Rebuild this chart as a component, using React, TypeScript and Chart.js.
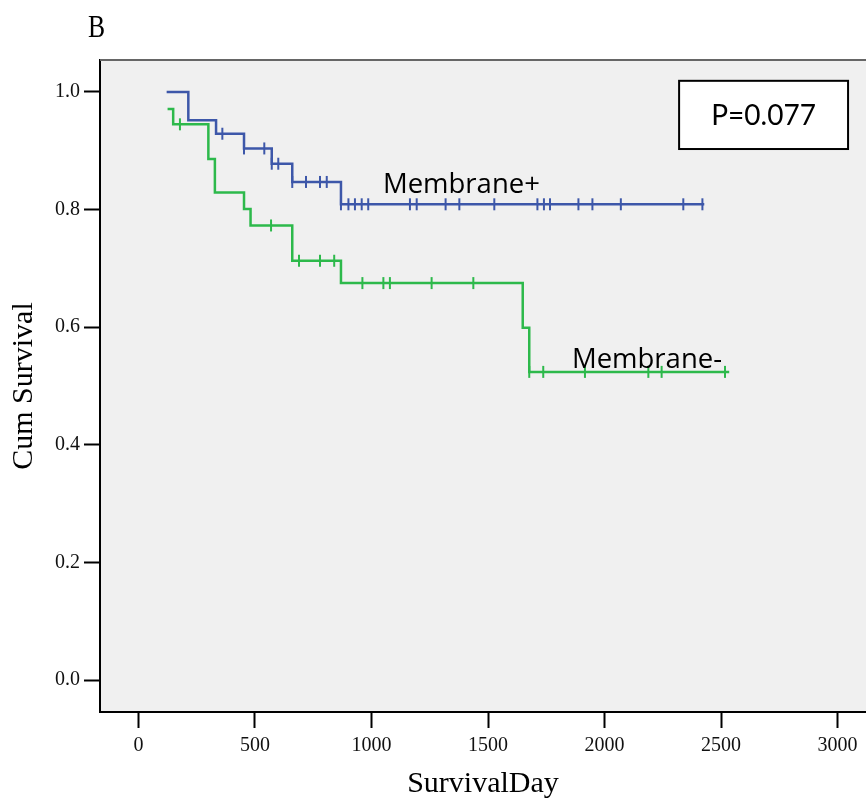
import React, { useEffect, useRef } from "react";
import { Chart, registerables } from "chart.js";

Chart.register(...registerables);

// ---- Data ----
const xTickValues = [0, 500, 1000, 1500, 2000, 2500, 3000];
const yTickValues = [0.0, 0.2, 0.4, 0.6, 0.8, 1.0];

// Membrane+ (blue)
const blueEventDays = [121, 214, 333, 453, 572, 660, 869];
const blueSurvival = [1.0, 0.952, 0.929, 0.904, 0.878, 0.847, 0.809];
const blueEndDay = 2428;
const blueCensorDays = [
  360, 453, 540, 572, 600, 660, 719, 779, 808, 869, 901, 929, 958, 986, 1165,
  1194, 1318, 1377, 1527, 1712, 1740, 1766, 1888, 1948, 2070, 2338, 2420,
];

// Membrane- (green)
const greenEventDays = [125, 149, 300, 328, 453, 481, 660, 869, 1649, 1677];
const greenSurvival = [0.971, 0.945, 0.886, 0.829, 0.801, 0.773, 0.713, 0.675, 0.599, 0.524];
const greenEndDay = 2535;
const greenCensorDays = [
  178, 569, 689, 779, 840, 961, 1051, 1079, 1258, 1437, 1677, 1737, 1916, 2188, 2245, 2517,
];

// Annotation texts and their anchors (in data units)
const seriesLabels = ["Membrane+", "Membrane-"];
const seriesLabelDays = [1049, 1860];
const seriesLabelValues = [0.828, 0.531];
const pValueText = "P=0.077";
const pBoxDays = [2320, 3045];
const pBoxValues = [1.019, 0.903];
const panelLetter = "B";

const BLUE = "#3d57a9";
const GREEN = "#2db94b";

function stepPoints(days: number[], surv: number[], end: number) {
  const pts = days.map((d, i) => ({ x: d, y: surv[i] }));
  pts.push({ x: end, y: surv[surv.length - 1] });
  return pts;
}

function censorPoints(censor: number[], days: number[], surv: number[]) {
  return censor.map((c) => {
    let s = surv[0];
    for (let i = 0; i < days.length; i++) if (days[i] <= c) s = surv[i];
    return { x: c, y: s };
  });
}

const decorPlugin = {
  id: "decor",
  beforeDraw(chart: any) {
    const { ctx, chartArea } = chart;
    ctx.save();
    ctx.fillStyle = "#f0f0f0";
    ctx.fillRect(chartArea.left, chartArea.top, chartArea.right - chartArea.left, chartArea.bottom - chartArea.top);
    ctx.restore();
  },
  afterDraw(chart: any) {
    const { ctx, chartArea, scales } = chart;
    const xs = scales.x;
    const ys = scales.y;
    ctx.save();
    // top frame line
    ctx.strokeStyle = "#666666";
    ctx.lineWidth = 2;
    ctx.beginPath();
    ctx.moveTo(chartArea.left, chartArea.top);
    ctx.lineTo(chartArea.right, chartArea.top);
    ctx.stroke();

    // series labels
    ctx.fillStyle = "#000";
    ctx.font = "27.5px 'Open Sans'";
    ctx.textAlign = "left";
    ctx.textBaseline = "alphabetic";
    seriesLabels.forEach((t, i) => {
      ctx.fillText(t, xs.getPixelForValue(seriesLabelDays[i]), ys.getPixelForValue(seriesLabelValues[i]));
    });

    // P value box
    const bx0 = xs.getPixelForValue(pBoxDays[0]);
    const bx1 = xs.getPixelForValue(pBoxDays[1]);
    const by0 = ys.getPixelForValue(pBoxValues[0]);
    const by1 = ys.getPixelForValue(pBoxValues[1]);
    ctx.fillStyle = "#ffffff";
    ctx.fillRect(bx0, by0, bx1 - bx0, by1 - by0);
    ctx.strokeStyle = "#000";
    ctx.lineWidth = 2;
    ctx.strokeRect(bx0, by0, bx1 - bx0, by1 - by0);
    ctx.fillStyle = "#000";
    ctx.font = "28px Lato";
    ctx.textAlign = "center";
    ctx.textBaseline = "middle";
    ctx.fillText(pValueText, (bx0 + bx1) / 2, (by0 + by1) / 2 + 1);

    // panel letter
    ctx.translate(88, 37);
    ctx.scale(0.8, 1);
    ctx.font = "32px 'Liberation Serif'";
    ctx.textAlign = "left";
    ctx.textBaseline = "alphabetic";
    ctx.fillText(panelLetter, 0, 0);
    ctx.restore();
  },
};

export default function App() {
  const canvasRef = useRef<HTMLCanvasElement | null>(null);

  useEffect(() => {
    if (!canvasRef.current) return;
    const chart = new Chart(canvasRef.current, {
      type: "line",
      data: {
        datasets: [
          {
            label: "Membrane+",
            data: stepPoints(blueEventDays, blueSurvival, blueEndDay),
            borderColor: BLUE,
            borderWidth: 2.5,
            stepped: "before",
            pointRadius: 0,
            fill: false,
          },
          {
            label: "Membrane-",
            data: stepPoints(greenEventDays, greenSurvival, greenEndDay),
            borderColor: GREEN,
            borderWidth: 2.5,
            stepped: "before",
            pointRadius: 0,
            fill: false,
          },
          {
            label: "Membrane+ censored",
            data: censorPoints(blueCensorDays, blueEventDays, blueSurvival),
            showLine: false,
            pointStyle: "line",
            rotation: 90,
            pointRadius: 6,
            pointBorderWidth: 2,
            pointBorderColor: BLUE,
            borderColor: BLUE,
          } as any,
          {
            label: "Membrane- censored",
            data: censorPoints(greenCensorDays, greenEventDays, greenSurvival),
            showLine: false,
            pointStyle: "line",
            rotation: 90,
            pointRadius: 6,
            pointBorderWidth: 2,
            pointBorderColor: GREEN,
            borderColor: GREEN,
          } as any,
        ],
      },
      options: {
        animation: false,
        responsive: false,
        devicePixelRatio: 1,
        layout: { padding: { left: 0, right: 0, top: 60, bottom: 0 }, autoPadding: false },
        plugins: {
          legend: { display: false },
          tooltip: { enabled: false },
        },
        scales: {
          x: {
            type: "linear",
            min: -165,
            max: 3122,
            afterBuildTicks: (s: any) => {
              s.ticks = xTickValues.map((v) => ({ value: v }));
            },
            afterFit: (s: any) => {
              s.height = 93;
            },
            ticks: {
              color: "#111",
              font: { family: "'Liberation Serif'", size: 20 },
              padding: 6,
              maxRotation: 0,
              autoSkip: false,
              callback: (v: any) => String(v),
            },
            grid: {
              drawOnChartArea: false,
              drawTicks: true,
              tickLength: 16,
              tickWidth: 2,
              tickColor: "#000",
            },
            border: { display: true, color: "#000", width: 2 },
            title: {
              display: true,
              text: "SurvivalDay",
              color: "#000",
              font: { family: "'Liberation Serif'", size: 30 },
              padding: { top: 0, bottom: 3 },
            },
          },
          y: {
            type: "linear",
            min: -0.0544,
            max: 1.0544,
            afterBuildTicks: (s: any) => {
              s.ticks = yTickValues.map((v) => ({ value: v }));
            },
            afterFit: (s: any) => {
              s.width = 100;
            },
            ticks: {
              color: "#111",
              font: { family: "'Liberation Serif'", size: 20 },
              padding: 4,
              autoSkip: false,
              callback: (v: any) => Number(v).toFixed(1),
            },
            grid: {
              drawOnChartArea: false,
              drawTicks: true,
              tickLength: 16,
              tickWidth: 2,
              tickColor: "#000",
            },
            border: { display: true, color: "#000", width: 2 },
            title: {
              display: true,
              text: "Cum Survival",
              color: "#000",
              font: { family: "'Liberation Serif'", size: 30 },
              padding: { top: 6, bottom: 0 },
            },
          },
        },
      },
      plugins: [decorPlugin],
    });
    return () => chart.destroy();
  }, []);

  return (
    <>
      <style>{"body{margin:0;background:#fff}"}</style>
      <canvas ref={canvasRef} width={866} height={805} style={{ display: "block" }} />
    </>
  );
}
